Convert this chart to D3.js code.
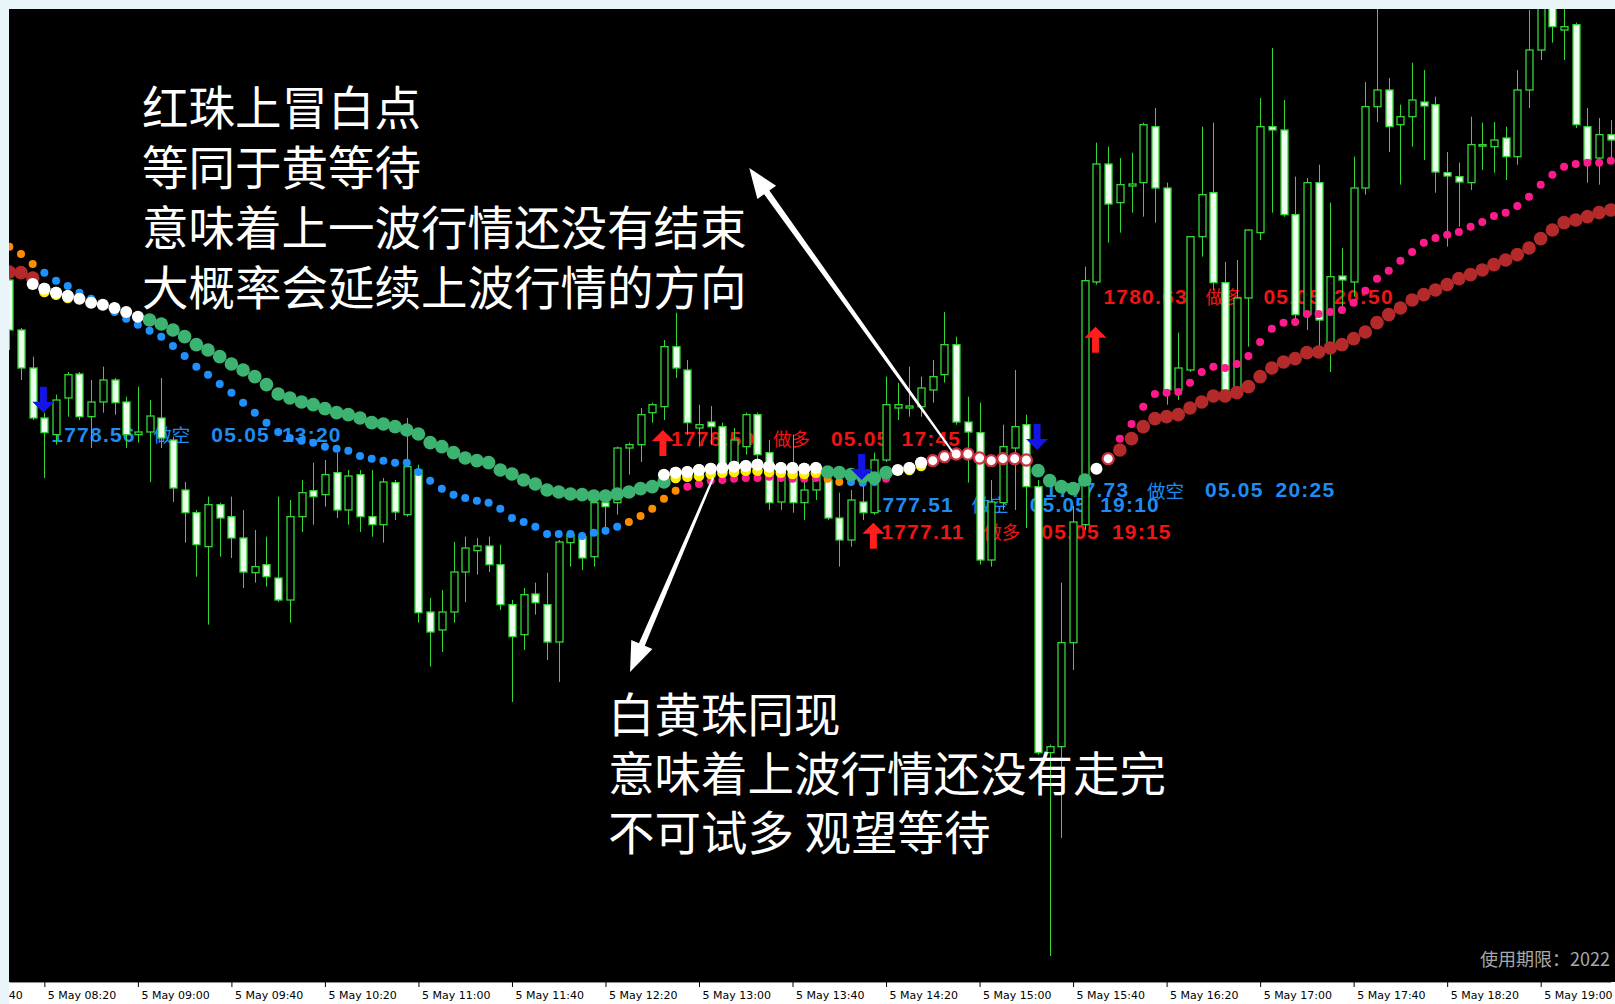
<!DOCTYPE html>
<html><head><meta charset="utf-8">
<script src="https://cdn.jsdelivr.net/npm/d3@7"></script>
<style>
html,body{margin:0;padding:0;background:#e9f5f9;overflow:hidden}
svg{display:block}
</style></head><body>
<svg id="chart" width="1615" height="1004"></svg>
<script>
// ---------------- DATA (XAUUSD M5, 5 May) ----------------
const startTime = new Date(2022, 4, 5, 8, 5);
const barMinutes = 5;

const open = [
1780.80,1780.05,1779.48,1778.73,1778.48,1779.03,1779.39,1778.75,1778.97,1779.30,
1778.97,1778.48,1778.52,1778.73,1778.40,1777.65,1777.31,1776.80,1777.43,1777.25,
1776.93,1776.41,1776.53,1776.33,1776.00,1777.25,1777.64,1777.58,1777.91,1777.35,
1777.88,1777.25,1777.13,1777.76,1777.28,1777.95,1775.82,1775.55,1775.82,1776.42,
1776.74,1776.81,1776.53,1775.93,1775.48,1776.09,1775.93,1775.37,1776.86,1776.95,
1776.65,1777.46,1777.46,1778.28,1778.33,1778.81,1778.90,1779.80,1779.45,1778.58,
1778.67,1778.60,1777.95,1778.30,1778.78,1778.21,1777.47,1777.92,1777.46,1777.65,
1777.80,1777.23,1776.90,1777.47,1777.31,1778.10,1778.88,1778.88,1778.90,1779.15,
1779.38,1779.83,1778.67,1778.51,1776.60,1777.46,1778.28,1778.63,1777.70,1773.71,
1773.80,1775.36,1777.13,1780.77,1782.54,1781.96,1782.21,1782.26,1783.10,1782.18,
1779.15,1779.45,1781.45,1782.11,1780.76,1779.18,1780.53,1781.51,1783.10,1783.05,
1781.78,1780.28,1782.26,1779.75,1780.86,1780.77,1782.18,1783.40,1783.65,1783.13,
1783.25,1783.47,1783.43,1782.41,1782.35,1782.26,1782.81,1782.80,1782.93,1782.65,
1783.65,1784.25,1785.15,1784.55,1784.63,1783.10,1782.63,1782.98];
const high = [
1780.95,1780.08,1779.65,1778.81,1779.08,1779.42,1779.42,1779.30,1779.50,1779.33,
1779.05,1779.20,1779.00,1779.33,1778.45,1777.77,1777.35,1777.55,1777.46,1777.55,
1777.35,1777.05,1776.95,1777.55,1777.50,1777.80,1778.06,1778.10,1778.21,1777.95,
1777.95,1777.95,1777.83,1777.80,1778.73,1778.03,1776.03,1776.15,1776.87,1776.95,
1776.93,1776.95,1776.83,1776.00,1776.18,1776.26,1776.41,1776.90,1777.02,1777.02,
1777.53,1777.55,1778.30,1778.36,1778.88,1778.96,1779.90,1780.31,1779.60,1778.93,
1778.91,1778.66,1778.58,1778.81,1778.81,1778.40,1778.00,1778.48,1777.80,1778.00,
1777.83,1777.61,1777.65,1777.80,1778.21,1779.35,1779.26,1779.50,1779.35,1779.60,
1780.32,1779.95,1779.05,1778.96,1777.80,1778.63,1779.45,1778.78,1777.80,1773.83,
1776.26,1777.41,1781.00,1782.86,1782.80,1782.63,1782.71,1783.16,1783.38,1782.26,
1780.01,1781.46,1783.10,1783.16,1781.07,1781.10,1781.56,1783.53,1784.28,1783.50,
1782.35,1782.33,1782.53,1781.96,1781.28,1782.65,1783.77,1785.20,1783.83,1783.43,
1784.06,1783.95,1783.55,1782.72,1782.56,1783.25,1783.16,1783.17,1783.10,1783.95,
1784.85,1785.38,1785.45,1784.88,1784.66,1783.38,1783.23,1783.20];
const low = [
1779.75,1779.30,1778.70,1777.83,1778.33,1778.75,1778.70,1778.28,1778.81,1778.78,
1778.28,1778.36,1777.77,1778.28,1777.47,1776.86,1776.35,1775.63,1776.65,1776.63,
1776.18,1776.26,1776.20,1775.97,1775.66,1777.02,1777.13,1777.40,1777.23,1777.13,
1777.02,1776.95,1776.86,1777.20,1777.25,1775.66,1775.00,1775.22,1775.66,1775.97,
1776.38,1776.42,1775.85,1774.47,1775.25,1775.78,1775.10,1774.77,1776.50,1776.45,
1776.50,1777.05,1777.28,1777.88,1778.07,1778.66,1778.70,1779.33,1778.48,1778.30,
1778.33,1777.88,1777.80,1778.18,1777.95,1777.35,1777.35,1777.31,1777.20,1777.50,
1777.20,1776.50,1776.80,1777.20,1777.28,1778.07,1778.70,1778.75,1778.75,1778.96,
1779.26,1778.63,1777.76,1776.53,1776.50,1777.35,1777.35,1777.08,1773.68,1770.66,
1772.43,1774.95,1777.05,1780.73,1781.36,1781.51,1781.81,1781.75,1781.66,1778.93,
1779.00,1779.42,1781.15,1780.65,1779.11,1779.03,1779.80,1781.40,1781.81,1781.75,
1780.20,1780.05,1779.80,1779.42,1780.31,1780.55,1782.08,1783.17,1782.72,1782.23,
1782.80,1782.60,1782.11,1781.30,1781.60,1782.15,1782.45,1782.41,1782.30,1782.53,
1783.38,1784.10,1784.36,1784.10,1783.08,1782.26,1782.23,1782.60];
const close = [
1780.05,1779.48,1778.73,1778.51,1779.00,1779.38,1778.75,1778.97,1779.30,1778.96,
1778.48,1778.52,1778.76,1778.43,1777.68,1777.31,1776.83,1777.43,1777.23,1776.93,
1776.42,1776.50,1776.35,1776.00,1777.25,1777.61,1777.55,1777.88,1777.35,1777.86,
1777.25,1777.13,1777.77,1777.32,1778.00,1775.81,1775.52,1775.82,1776.42,1776.78,
1776.81,1776.53,1775.93,1775.45,1776.08,1775.96,1775.37,1776.87,1776.98,1776.63,
1777.46,1777.40,1778.28,1778.33,1778.78,1778.93,1779.80,1779.48,1778.66,1778.63,
1778.60,1777.95,1778.40,1778.78,1778.18,1777.46,1777.85,1777.46,1777.65,1777.85,
1777.23,1776.90,1777.50,1777.31,1778.10,1778.93,1778.93,1778.91,1779.18,1779.35,
1779.83,1778.67,1778.52,1776.60,1777.47,1778.30,1778.60,1777.70,1773.71,1773.80,
1775.36,1777.17,1780.79,1782.54,1781.94,1782.23,1782.24,1783.13,1782.18,1779.15,
1779.48,1781.45,1782.08,1780.76,1779.15,1780.53,1781.55,1783.10,1783.05,1781.78,
1780.28,1782.26,1780.20,1780.85,1780.80,1782.18,1783.40,1783.65,1783.10,1783.25,
1783.50,1783.41,1782.42,1782.36,1782.27,1782.83,1782.83,1782.90,1782.65,1783.65,
1784.25,1784.93,1784.60,1784.60,1783.13,1782.60,1782.98,1782.90];

// slow bead line (big beads) and its colour state runs
const slowLine = [
1780.92,1780.91,1780.83,
1780.67,1780.61,1780.56,1780.52,1780.46,1780.43,1780.38,1780.32,1780.25,
1780.20,1780.14,1780.05,1779.95,1779.83,1779.75,1779.65,1779.54,1779.45,1779.35,
1779.23,1779.09,1779.03,1778.97,1778.93,1778.87,1778.81,1778.78,1778.73,1778.66,
1778.64,1778.60,1778.55,1778.49,1778.36,1778.30,1778.21,1778.13,1778.09,1778.06,
1777.95,1777.89,1777.80,1777.74,1777.65,1777.62,1777.59,1777.58,1777.56,1777.56,
1777.59,1777.62,1777.67,1777.70,1777.77,
1777.91,1777.92,1777.95,1777.97,1777.98,1778.00,1778.01,1778.03,1778.00,1777.98,1777.98,1777.97,1777.98,
1777.92,1777.91,1777.88,1777.85,1777.83,1777.91,
1777.95,1777.98,1778.06,
1778.09,1778.15,1778.19,1778.19,1778.13,1778.09,1778.12,1778.12,1778.10,
1777.94,1777.79,1777.70,1777.67,1777.80,
1777.97,1778.12,
1778.25,1778.42,1778.60,1778.72,1778.75,1778.78,1778.88,1778.97,1779.06,1779.06,
1779.11,1779.20,1779.35,1779.48,1779.57,1779.62,1779.71,1779.72,1779.78,1779.83,
1779.92,1780.02,1780.16,1780.28,1780.38,1780.50,1780.58,1780.65,1780.73,1780.82,
1780.88,1780.95,1781.03,1781.10,1781.18,1781.28,1781.42,1781.55,1781.66,1781.70,
1781.75,1781.81,1781.85];
const slowStateRuns = [["R",3],["W",9],["G",45],["W",13],["G",6],["W",3],["P",9],["G",5],["W",1],["P",1],["R",43]];

// fast bead line (small beads)
const fastLine = [
1781.30,1781.19,1781.04,
1780.91,1780.79,1780.71,1780.61,1780.52,1780.41,1780.32,1780.22,1780.13,1780.04,
1779.95,1779.81,1779.66,1779.50,1779.38,1779.24,1779.11,1778.96,1778.81,1778.66,
1778.52,1778.43,1778.39,1778.36,1778.30,1778.27,1778.24,1778.16,1778.12,1778.09,
1778.06,1778.06,1777.92,1777.79,1777.67,1777.58,1777.53,1777.49,1777.46,1777.37,
1777.23,1777.17,1777.10,1776.99,1776.99,1776.99,1776.96,1777.01,1777.04,1777.10,
1777.17,1777.26,1777.37,1777.52,1777.64,
1777.70,1777.74,1777.79,1777.80,1777.82,1777.83,1777.83,1777.85,1777.83,1777.82,1777.82,1777.83,
1777.82,1777.77,
1777.77,1777.76,1777.77,
1777.82,
1777.95,1777.98,1778.06,1778.09,1778.15,1778.19,1778.19,1778.13,1778.09,1778.12,1778.12,1778.10,
1777.94,1777.79,1777.70,1777.67,1777.80,
1777.97,1778.12,
1778.42,1778.64,1778.90,1779.09,1779.11,1779.12,1779.26,1779.42,1779.50,1779.48,
1779.54,1779.66,1779.87,1780.07,1780.16,1780.17,1780.29,1780.29,1780.32,1780.35,
1780.46,1780.64,1780.82,1780.94,1781.09,1781.22,1781.36,1781.43,1781.48,1781.52,
1781.60,1781.67,1781.76,1781.81,1781.91,1782.05,1782.23,1782.38,1782.50,1782.54,
1782.56,1782.56,1782.59];
const fastStateRuns = [["O",3],["B",50],["O",5],["M",12],["O",2],["B",3],["M",1],["M",12],["B",5],["M",2],["M",43]];

// extra white beads and yellow "wait" beads: [bar, price]
const whiteBeads = [[2,1780.74],[56,1777.88]];
const yellowBeads = [[3,1780.62],[4,1780.58],[5,1780.53],
  [57,1777.83],[58,1777.85],[59,1777.86],[60,1777.89],[61,1777.91],[62,1777.92],[63,1777.94],
  [64,1777.94],[65,1777.92],[66,1777.91],[67,1777.89],[68,1777.89],[69,1777.91],
  [77,1777.95],[78,1778.01]];

// trade signals
const signalBars   = [3, 56, 73, 74, 88, 93];
const signalSide   = ["做空","做多","做空","做多","做空","做多"];
const signalPrice  = [1778.56, 1778.50, 1777.51, 1777.11, 1777.73, 1780.63];
const signalArrowAt= [1778.81, 1778.55, 1777.80, 1777.16, 1778.25, 1780.10];
const signalTime   = ["05.05 13:20","05.05 17:45","05.05 19:10","05.05 19:15","05.05 20:25","05.05 20:50"];

// annotations
const noteTop = ["红珠上冒白点","等同于黄等待","意味着上一波行情还没有结束","大概率会延续上波行情的方向"];
const noteBottom = ["白黄珠同现","意味着上波行情还没有走完","不可试多 观望等待"];
const footerText = "使用期限：2022";

// ---------------- CHART ----------------
const W = 1615, H = 1004, PL = 9, PT = 9, PB = 982;
const svg = d3.select("#chart");
const defs = svg.append("defs");
defs.append("clipPath").attr("id","plotClip").append("rect")
  .attr("x",PL).attr("y",PT).attr("width",W-PL).attr("height",PB-PT);
defs.append("clipPath").attr("id","axisClip").append("rect")
  .attr("x",PL).attr("y",PB).attr("width",W-PL).attr("height",H-PB);

svg.append("rect").attr("width",W).attr("height",H).attr("fill","#e9f5f9");
svg.append("rect").attr("x",PL).attr("y",PT).attr("width",W-PL).attr("height",PB-PT).attr("fill","#000");

const n = open.length;
const times = d3.range(n).map(i => d3.timeMinute.offset(startTime, i*barMinutes));
const x = d3.scaleTime().domain([times[0], times[n-1]]).range([9.3, 9.3 + (n-1)*11.69]);
const xAt = i => x(new Date(startTime.getTime() + i*barMinutes*60000));
const y = d3.scaleLinear().domain([1785, 1769.94]).range([0, H]);

const expand = runs => runs.flatMap(([c,k]) => Array(k).fill(c));
const slowState = expand(slowStateRuns);
const fastState = expand(fastStateRuns);

const plot = svg.append("g").attr("clip-path","url(#plotClip)");

// signal labels (behind candles)
const sigColor = s => s === "做空" ? "#1e8cf0" : "#f01414";
const labels = plot.append("g");
signalBars.forEach((b,k) => {
  const x0 = xAt(b) + 7, yc = y(signalPrice[k]) + 5;
  const c = sigColor(signalSide[k]);
  labels.append("text").attr("x",x0).attr("y",yc).attr("dominant-baseline","central")
    .attr("font-family","Liberation Sans, Arial, sans-serif").attr("font-weight","bold")
    .attr("font-size",21).attr("letter-spacing","1.2px").attr("fill",c).text(signalPrice[k].toFixed(2));
  labels.append("text").attr("x",x0+102).attr("y",yc).attr("dominant-baseline","central")
    .attr("font-family","Noto Sans CJK SC, sans-serif").attr("font-size",18.5).attr("fill",c)
    .text(signalSide[k]);
  labels.append("text").attr("x",x0+160).attr("y",yc).attr("dominant-baseline","central")
    .attr("font-family","Liberation Sans, Arial, sans-serif").attr("font-weight","bold")
    .attr("font-size",21).attr("letter-spacing","1.2px").attr("word-spacing","5px").attr("fill",c).text(signalTime[k]);
});

// candles
const GREEN = "#34d834";
const cg = plot.append("g");
const idx = d3.range(n);
cg.selectAll("line.wick").data(idx).join("line").attr("class","wick")
  .attr("x1",i=>Math.round(xAt(i))+0.5).attr("x2",i=>Math.round(xAt(i))+0.5)
  .attr("y1",i=>y(high[i])).attr("y2",i=>y(low[i]))
  .attr("stroke",GREEN).attr("stroke-width",1);
cg.selectAll("rect.body").data(idx).join("rect").attr("class","body")
  .attr("x",i=>Math.round(xAt(i))-3)
  .attr("y",i=>y(Math.max(open[i],close[i])))
  .attr("width",7)
  .attr("height",i=>Math.max(1.5, Math.abs(y(open[i])-y(close[i]))))
  .attr("fill",i=> close[i] >= open[i] ? "#000" : "#efffef")
  .attr("stroke",GREEN).attr("stroke-width",1.3);

// beads
const fastColor = {B:"#1e90ff", O:"#ff8c00", M:"#ff1a8c"};
const bg = plot.append("g");
bg.selectAll("circle.fast").data(idx).join("circle").attr("class","fast")
  .attr("cx",i=>xAt(i)).attr("cy",i=>y(fastLine[i])).attr("r",4)
  .attr("fill",i=>fastColor[fastState[i]]);
const slowFill = {R:"#b42a2a", G:"#3cb371", W:"#ffffff", P:"#ffffff"};
bg.selectAll("circle.slow").data(idx).join("circle").attr("class","slow")
  .attr("cx",i=>xAt(i)).attr("cy",i=>y(slowLine[i]))
  .attr("r",i=> slowState[i]==="P" ? 5.6 : (slowState[i]==="W" ? 6 : 6.8))
  .attr("fill",i=>slowFill[slowState[i]])
  .attr("stroke",i=> slowState[i]==="P" ? "#cc3040" : "none")
  .attr("stroke-width",2.2);
bg.selectAll("circle.yel").data(yellowBeads).join("circle").attr("class","yel")
  .attr("cx",d=>xAt(d[0])).attr("cy",d=>y(d[1])).attr("r",5.3).attr("fill","#ffee00");
bg.selectAll("circle.whi").data(whiteBeads).join("circle").attr("class","whi")
  .attr("cx",d=>xAt(d[0])).attr("cy",d=>y(d[1])).attr("r",6).attr("fill","#ffffff");
// white beads drawn again over yellow (white sits on top)
bg.selectAll("circle.whi2").data(yellowBeads).join("circle").attr("class","whi2")
  .attr("cx",d=>xAt(d[0])).attr("cy",d=>y(slowLine[d[0]])).attr("r",6).attr("fill","#ffffff");

// signal arrows
const ag = plot.append("g");
signalBars.forEach((b,k) => {
  const cx = xAt(b) - 1, ty = y(signalArrowAt[k]);
  const sell = signalSide[k] === "做空";
  const s = sell ? -1 : 1;  // sell: tip at bottom, body above
  const p = [[cx-3.5, ty+s*26],[cx+3.5, ty+s*26],[cx+3.5, ty+s*11],[cx+11, ty+s*11],[cx, ty],[cx-11, ty+s*11],[cx-3.5, ty+s*11]];
  ag.append("path").attr("d", "M" + p.map(q=>q.join(",")).join("L") + "Z")
    .attr("fill", sell ? "#1414e6" : "#ff1e1e");
});

// annotation arrows (tail / tip in bar-index & price)
const annoArrows = [
  {tail:[80.7, 1778.22], tip:[63.3, 1782.48]},
  {tail:[60.2, 1777.83], tip:[53.1, 1774.92]}
];
const an = svg.append("g");
annoArrows.forEach(a => {
  const T = [xAt(a.tail[0]), y(a.tail[1])], P = [xAt(a.tip[0]), y(a.tip[1])];
  const dx = P[0]-T[0], dy = P[1]-T[1], L = Math.hypot(dx,dy);
  const ux = dx/L, uy = dy/L, nx = -uy, ny = ux;
  const hl = 30, hw = 11.5;
  const B = [P[0]-ux*hl, P[1]-uy*hl];
  const pts = [
    [T[0]+nx*1, T[1]+ny*1], [B[0]+nx*3.2, B[1]+ny*3.2], [B[0]+nx*hw, B[1]+ny*hw], P,
    [B[0]-nx*hw, B[1]-ny*hw], [B[0]-nx*3.2, B[1]-ny*3.2], [T[0]-nx*1, T[1]-ny*1]
  ];
  an.append("path").attr("d","M"+pts.map(q=>q.join(",")).join("L")+"Z").attr("fill","#ffffff");
});

// annotation text
const tf = "Noto Sans CJK SC, Noto Sans, sans-serif";
svg.append("g").selectAll("text").data(noteTop).join("text")
  .attr("x",142).attr("y",(d,i)=>104 + i*60.3).attr("dominant-baseline","central")
  .attr("font-family",tf).attr("font-size",46.5).attr("fill","#ffffff").text(d=>d);
svg.append("g").selectAll("text").data(noteBottom).join("text")
  .attr("x",608).attr("y",(d,i)=>711 + i*59).attr("dominant-baseline","central")
  .attr("font-family",tf).attr("font-size",46.5).attr("fill","#ffffff").text(d=>d);

svg.append("text").attr("x",1480).attr("y",958).attr("dominant-baseline","central")
  .attr("font-family",tf).attr("font-size",18).attr("fill","#a8a8a8").text(footerText);

// time axis
const tickVals = d3.timeMinute.range(new Date(2022,4,5,7,40), new Date(2022,4,5,19,1), 40);
const axis = d3.axisBottom(x).tickValues(tickVals).tickFormat(d3.timeFormat("%-d %b %H:%M"))
  .tickSizeInner(5).tickSizeOuter(0);
const axOuter = svg.append("g").attr("clip-path","url(#axisClip)");
axOuter.append("rect").attr("x",PL).attr("y",PB).attr("width",W-PL).attr("height",H-PB).attr("fill","#ffffff");
const ax = axOuter.append("g").attr("transform",`translate(0,${PB})`).call(axis);
ax.select(".domain").attr("stroke","#8c8c8c");
ax.selectAll(".tick line").attr("stroke","#000");
ax.selectAll(".tick text").attr("text-anchor","start").attr("x",3).attr("y",9)
  .attr("font-family","DejaVu Sans, Tahoma, sans-serif").attr("font-size",11).attr("fill","#000");
</script>
</body></html>
